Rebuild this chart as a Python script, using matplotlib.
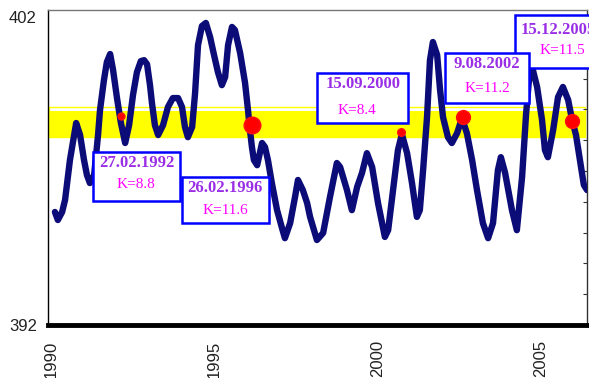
import datetime as dt
import matplotlib
matplotlib.use("Agg")
import matplotlib.pyplot as plt
from matplotlib.patches import Rectangle

# Smoothed series (decimal year, value)
years = [
    1990.12, 1990.21, 1990.34, 1990.43, 1990.58, 1990.77, 1990.89, 1991.01, 1991.10, 1991.19,
    1991.32, 1991.38, 1991.44, 1991.50, 1991.62, 1991.71, 1991.81, 1991.90, 1992.02, 1992.14,
    1992.27, 1992.39, 1992.51, 1992.63, 1992.75, 1992.85, 1992.94, 1993.03, 1993.09, 1993.18,
    1993.28, 1993.43, 1993.58, 1993.73, 1993.89, 1994.01, 1994.10, 1994.19, 1994.32, 1994.41,
    1994.50, 1994.62, 1994.74, 1994.87, 1994.99, 1995.11, 1995.23, 1995.33, 1995.42, 1995.54,
    1995.63, 1995.79, 1995.94, 1996.03, 1996.09, 1996.15, 1996.21, 1996.31, 1996.46, 1996.55,
    1996.64, 1996.76, 1996.92, 1997.07, 1997.16, 1997.32, 1997.47, 1997.56, 1997.71, 1997.84,
    1997.93, 1998.14, 1998.33, 1998.54, 1998.75, 1998.85, 1999.06, 1999.21, 1999.37, 1999.52,
    1999.67, 1999.83, 2000.01, 2000.22, 2000.32, 2000.47, 2000.62, 2000.74, 2000.90, 2001.05,
    2001.20, 2001.29, 2001.39, 2001.51, 2001.60, 2001.69, 2001.82, 2001.91, 2002.00, 2002.15,
    2002.27, 2002.43, 2002.58, 2002.73, 2002.89, 2003.04, 2003.22, 2003.38, 2003.53, 2003.68,
    2003.77, 2003.90, 2004.11, 2004.26, 2004.42, 2004.54, 2004.63, 2004.69, 2004.75, 2004.88,
    2005.03, 2005.12, 2005.21, 2005.37, 2005.52, 2005.67, 2005.83, 2005.95, 2006.07, 2006.19,
    2006.31, 2006.41,
]
values = [
    395.67, 395.41, 395.67, 396.06, 397.36, 398.56, 398.17, 397.36, 396.87, 396.61,
    396.87, 397.52, 398.17, 398.98, 399.95, 400.54, 400.80, 400.28, 399.37, 398.56,
    397.91, 398.49, 399.47, 400.21, 400.57, 400.60, 400.47, 399.79, 399.21, 398.49,
    398.17, 398.49, 399.08, 399.37, 399.37, 399.08, 398.43, 398.10, 398.43, 399.53,
    401.09, 401.71, 401.81, 401.35, 400.77, 400.21, 399.79, 400.05, 401.09, 401.68,
    401.58, 400.83, 399.86, 398.98, 398.33, 397.78, 397.36, 397.19, 397.91, 397.78,
    397.36, 396.61, 395.73, 395.15, 394.82, 395.31, 396.16, 396.71, 396.38, 395.96,
    395.51, 394.76, 394.99, 396.16, 397.26, 397.13, 396.38, 395.73, 396.48, 396.94,
    397.58, 397.13, 395.96, 394.86, 395.08, 396.38, 397.68, 398.20, 397.58, 396.61,
    395.51, 395.73, 397.03, 398.75, 400.60, 401.19, 400.77, 399.63, 398.75, 398.10,
    397.91, 398.23, 398.72, 398.23, 397.36, 396.38, 395.31, 394.82, 395.31, 397.03,
    397.45, 396.94, 395.73, 395.08, 396.81, 398.82, 399.95, 400.54, 400.28, 399.73,
    398.66, 397.68, 397.45, 398.33, 399.40, 399.73, 399.31, 398.66, 398.17, 397.36,
    396.55, 396.38,
]

# Highlighted band
band_low = 398.10
band_fill_high = 398.95
band_high = 399.08

# Marked events
event_dates = ["27.02.1992", "26.02.1996", "15.09.2000", "9.08.2002", "15.12.2005"]
event_k = [8.8, 11.6, 8.4, 11.2, 11.5]
event_values = [398.79, 398.49, 398.27, 398.75, 398.64]

x_ticks = [1990, 1995, 2000, 2005]
y_ticks = [392, 402]


def decimal_year(s):
    d = dt.datetime.strptime(s, "%d.%m.%Y")
    start = dt.datetime(d.year, 1, 1)
    end = dt.datetime(d.year + 1, 1, 1)
    return d.year + (d - start).total_seconds() / (end - start).total_seconds()


W, H = 589, 378
fig = plt.figure(figsize=(W / 100, H / 100), dpi=100)
fig.patch.set_facecolor("white")

# axes box in pixels: left 48, right 587, top 10, bottom 325
ax = fig.add_axes([48 / W, 1 - 325 / H, (587 - 48) / W, (325 - 10) / H])
ax.set_xlim(1989.908, 2006.407)
ax.set_ylim(392, 402.23)

# yellow band
ax.axhspan(band_low, band_fill_high, xmin=0.002, xmax=0.996,
           facecolor="#ffff00", edgecolor="none", zorder=1)
ax.add_patch(Rectangle((1989.94, band_low), 2006.35 - 1989.94, band_high - band_low,
                       facecolor="none", edgecolor="#ffff00", lw=1.0, zorder=1))

# series
ax.plot(years, values, color="#0c0c78", lw=4.6, solid_joinstyle="round",
        solid_capstyle="round", zorder=3)

# event markers
marker_sizes = [5, 12, 5.5, 10, 10]
for d, v, ms in zip(event_dates, event_values, marker_sizes):
    ax.plot([decimal_year(d)], [v], "o", color="#ff0000", ms=ms, mec="#ff1010",
            zorder=4)

# spines and ticks
for side in ("left",):
    ax.spines[side].set_color("black")
    ax.spines[side].set_linewidth(1.0)
ax.spines["top"].set_color("#777777")
ax.spines["top"].set_linewidth(1.0)
ax.spines["right"].set_color("#333333")
ax.spines["right"].set_linewidth(1.0)
ax.spines["bottom"].set_color("black")
ax.spines["bottom"].set_linewidth(3.5)

ax.set_xticks(x_ticks)
ax.set_xticklabels([str(t) for t in x_ticks], rotation=90,
                   fontfamily="Liberation Sans", fontsize=12, color="#222222")
ax.tick_params(axis="x", length=0, pad=11)
ax.set_yticks(y_ticks)
ax.set_yticklabels([str(t) for t in y_ticks], fontfamily="Liberation Sans",
                   fontsize=12, color="#222222")
ax.tick_params(axis="y", length=0, pad=8)
ax.set_yticks(range(393, 402), minor=True)
ax.tick_params(axis="y", which="minor", left=False, right=True, direction="in",
               length=3, width=0.8, color="#333333")

# annotation boxes (figure pixels: x0, y0, x1, y1 from top-left)
boxes = [
    (93, 152, 180, 201),
    (182, 177, 269, 223),
    (317, 73, 408, 123),
    (515, 15, 610, 68),
    (445, 53, 529, 103),
]
date_pos = [(137, 163, "center"), (225, 188, "center"), (363, 84, "center"),
            (521, 30, "left"), (487, 64, "center")]
k_pos = [(136, 184), (225, 210), (357, 110), (562, 50), (487, 88)]
order = [0, 1, 2, 4, 3]  # box index -> event index

for bi, (x0, y0, x1, y1) in enumerate(boxes):
    ei = order[bi]
    z = 10 + bi
    rect = Rectangle((x0 / W, 1 - y1 / H), (x1 - x0) / W, (y1 - y0) / H,
                     transform=fig.transFigure, facecolor="white",
                     edgecolor="#0000ff", lw=1.8, zorder=z)
    fig.add_artist(rect)
    dx, dy, ha = date_pos[bi]
    fig.text(dx / W, 1 - dy / H, event_dates[ei], ha=ha, va="center",
             fontfamily="Liberation Serif", fontweight="bold", fontsize=12,
             color="#9a2ee6", zorder=z + 0.5)
    kx, ky = k_pos[bi]
    fig.text(kx / W, 1 - ky / H, f"K={event_k[ei]}", ha="center", va="center",
             fontfamily="Liberation Serif", fontsize=11, color="#ff00ff",
             zorder=z + 0.5)

fig.savefig("out.png", dpi=100)
